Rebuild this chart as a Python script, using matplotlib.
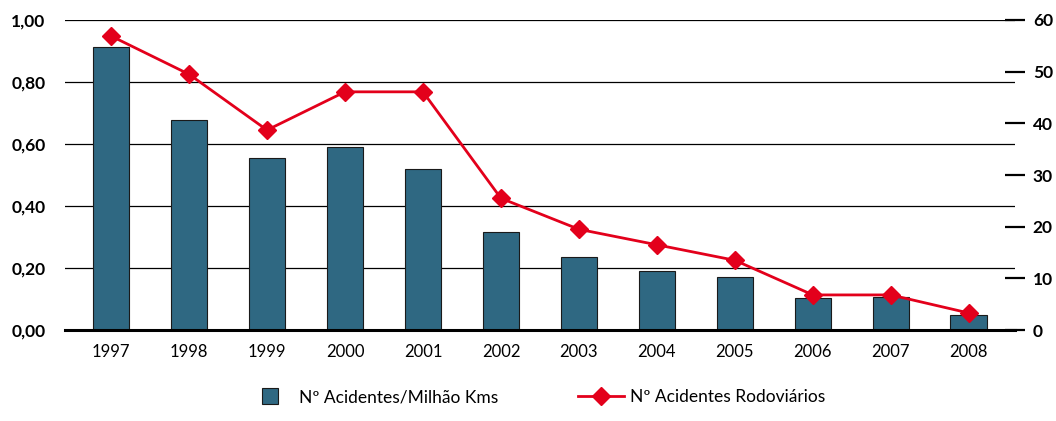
import matplotlib.pyplot as plt
from matplotlib.lines import Line2D
import numpy as np

years = ["1997", "1998", "1999", "2000", "2001", "2002",
         "2003", "2004", "2005", "2006", "2007", "2008"]
acid_per_mkm = [0.913, 0.677, 0.555, 0.590, 0.519, 0.316,
                0.235, 0.190, 0.171, 0.103, 0.106, 0.048]
acid_rodov = [56.9, 49.5, 38.7, 46.1, 46.1, 25.5,
              19.5, 16.5, 13.5, 6.8, 6.8, 3.3]
left_ticks = [0.0, 0.2, 0.4, 0.6, 0.8, 1.0]
right_ticks = [0, 10, 20, 30, 40, 50, 60]

BAR_COLOR = "#2f6882"
LINE_COLOR = "#e3001b"

plt.rcParams["font.family"] = ["Lato", "DejaVu Sans"]

fig = plt.figure(figsize=(10.56, 4.21), dpi=100)
ax = fig.add_axes([0.0616, 0.216, 0.8994, 0.7365])
x = np.arange(len(years))

ax.set_axisbelow(True)
ax.yaxis.grid(True, color="black", linewidth=0.9)
ax.bar(x, acid_per_mkm, width=0.47, color=BAR_COLOR,
       edgecolor="#1a1a1a", linewidth=0.8, zorder=2)
ax.set_ylim(0, 1.0)
ax.set_xlim(-0.59, len(years) - 1 + 0.59)
ax.set_yticks(left_ticks)
ax.set_yticklabels([f"{v:.2f}".replace(".", ",") for v in left_ticks],
                   fontsize=12.5, fontweight="bold")
ax.set_xticks(x)
ax.set_xticklabels(years, fontsize=12)
ax.tick_params(axis="y", length=0, pad=14)
ax.tick_params(axis="x", length=0, pad=10)
for s in ["top", "right", "left"]:
    ax.spines[s].set_visible(False)
ax.spines["bottom"].set_linewidth(2.2)
ax.spines["bottom"].set_zorder(5)

ax2 = ax.twinx()
line, = ax2.plot(x, acid_rodov, color=LINE_COLOR, linewidth=2,
                 marker="D", markersize=9, zorder=4)
ax2.set_ylim(0, 60)
ax2.set_yticks(right_ticks)
ax2.set_yticklabels([str(v) for v in right_ticks], fontsize=12.5,
                    fontweight="bold")
ax2.tick_params(axis="y", direction="inout", length=14, width=1.6, pad=6)
for s in ["top", "right", "left", "bottom"]:
    ax2.spines[s].set_visible(False)

bar_handle = Line2D([], [], linestyle="none", marker="s", markersize=11,
                    markerfacecolor=BAR_COLOR, markeredgecolor="#1a1a1a",
                    markeredgewidth=0.8)
leg = fig.legend([bar_handle, line],
                 ["Nº Acidentes/Milhão Kms", "Nº Acidentes Rodoviários"],
                 loc="lower center", bbox_to_anchor=(0.508, 0.0), ncol=2,
                 frameon=False, fontsize=12.5, columnspacing=4.6,
                 handlelength=2.6, handletextpad=0.4)

fig.savefig("out.png", dpi=100)
